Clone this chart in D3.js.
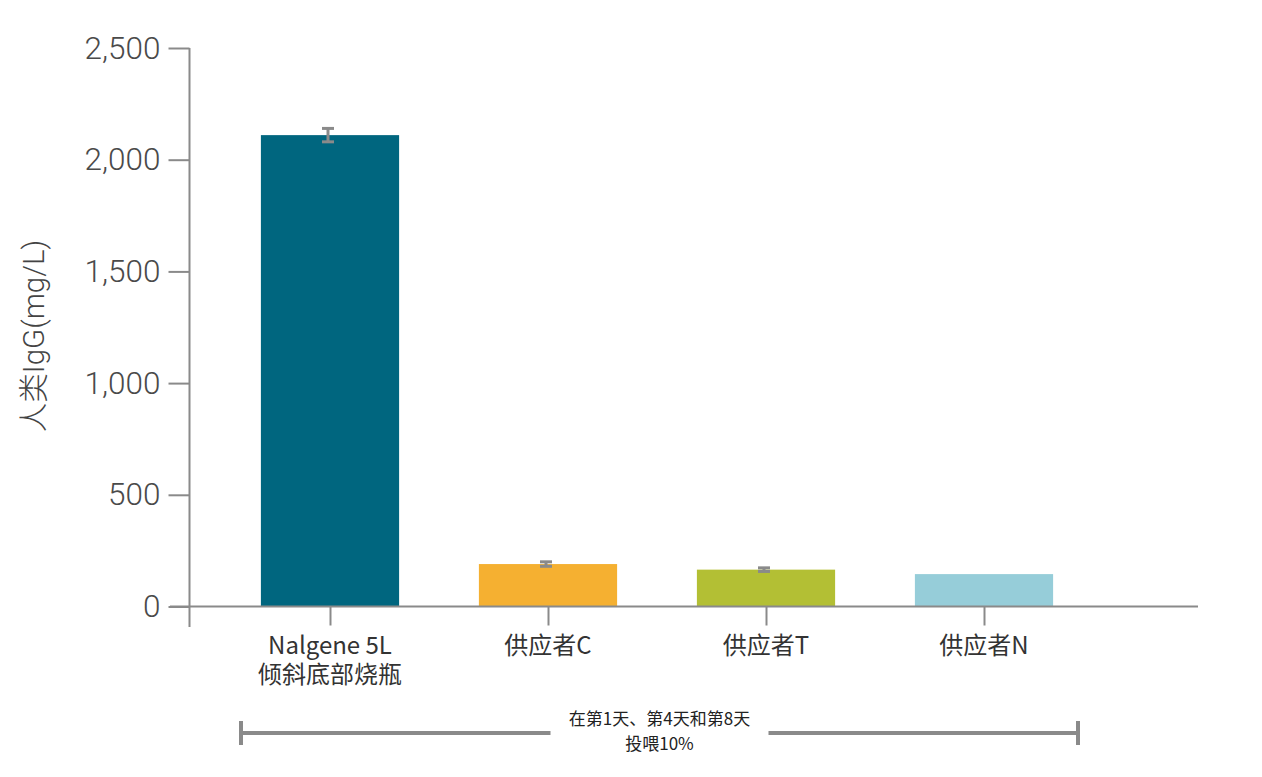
<!DOCTYPE html>
<html><head><meta charset="utf-8">
<script src="https://cdn.jsdelivr.net/npm/d3@7/dist/d3.min.js"></script>
<style>
html,body{margin:0;padding:0;background:#fff;}
svg{display:block;}
</style></head>
<body>
<svg id="chart" width="1262" height="777"></svg>
<script>
const categories = ["Nalgene 5L|倾斜底部烧瓶", "供应者C", "供应者T", "供应者N"];
const values = [2110, 190, 165, 145];
const errors = [30, 10, 8, 0];
const colors = ["#00667f", "#f5b031", "#b3bf34", "#96cdd9"];
const yTicks = [0, 500, 1000, 1500, 2000, 2500];
const yTitle = "人类IgG(mg/L)";
const bracketLines = ["在第1天、第4天和第8天", "投喂10%"];

const svg = d3.select("#chart");
const gray = "#8a8a8a";
const y = d3.scaleLinear().domain([0, 2500]).range([606.5, 48]);
const x = d3.scalePoint().domain(categories).range([330, 984]);
const barW = x.step() * 0.634;

// bars
svg.append("g").selectAll("rect").data(categories).join("rect")
  .attr("x", d => x(d) - barW / 2)
  .attr("y", (d, i) => y(values[i]))
  .attr("width", barW)
  .attr("height", (d, i) => y(0) - y(values[i]))
  .attr("fill", (d, i) => colors[i]);

// error bars
const eb = svg.append("g").attr("stroke", gray).attr("stroke-width", 3).attr("fill", "none");
categories.forEach((c, i) => {
  if (!errors[i]) return;
  const cx = x(c) - 2, t = y(values[i] + errors[i]), b = y(values[i] - errors[i]);
  eb.append("line").attr("x1", cx).attr("x2", cx).attr("y1", t).attr("y2", b);
  eb.append("line").attr("x1", cx - 6).attr("x2", cx + 6).attr("y1", t).attr("y2", t);
  eb.append("line").attr("x1", cx - 6).attr("x2", cx + 6).attr("y1", b).attr("y2", b);
});

// y axis
const yAxis = svg.append("g").attr("transform", "translate(189.5,0)")
  .call(d3.axisLeft(y).tickValues(yTicks).tickFormat(d3.format(",")).tickSize(21).tickPadding(8));
yAxis.select(".domain").remove();
yAxis.selectAll(".tick line").attr("stroke", gray).attr("stroke-width", 2);
yAxis.selectAll(".tick text").attr("fill", "#4a4a4a")
  .style("font-family", "Roboto, 'Liberation Sans', sans-serif").style("font-weight", 300).style("font-size", "31.5px");
svg.append("line").attr("x1", 189.5).attr("x2", 189.5).attr("y1", y(2500)).attr("y2", 627)
  .attr("stroke", gray).attr("stroke-width", 2);

// x axis line
svg.append("line").attr("x1", 170).attr("x2", 1198).attr("y1", y(0)).attr("y2", y(0))
  .attr("stroke", gray).attr("stroke-width", 2);

// x ticks and labels
const xAxis = svg.append("g").attr("transform", `translate(0,${y(0)})`)
  .call(d3.axisBottom(x).tickSize(19).tickFormat(""));
xAxis.select(".domain").remove();
xAxis.selectAll(".tick line").attr("stroke", gray).attr("stroke-width", 2);

const lab = svg.append("g").attr("font-family", "'Noto Sans CJK SC', 'Noto Sans', sans-serif")
  .attr("font-size", 24).attr("fill", "#333").attr("text-anchor", "middle");
categories.forEach(c => {
  c.split("|").forEach((s, j) =>
    lab.append("text").attr("x", x(c)).attr("y", 654 + j * 29).text(s));
});

// y title
svg.append("text").attr("transform", "translate(44,336) rotate(-90)")
  .attr("text-anchor", "middle").attr("fill", "#444")
  .style("font-family", "Roboto, 'Noto Sans CJK SC', sans-serif").style("font-weight", 300)
  .style("font-size", "29.5px").text(yTitle);

// bracket
const bx0 = x(categories[0]) - 89, bx1 = x(categories[categories.length - 1]) + 94, by = 733;
const br = svg.append("g").attr("stroke", gray).attr("stroke-width", 4);
const mid = (bx0 + bx1) / 2;
br.append("line").attr("x1", bx0).attr("x2", mid - 109).attr("y1", by).attr("y2", by);
br.append("line").attr("x1", mid + 109).attr("x2", bx1).attr("y1", by).attr("y2", by);
br.append("line").attr("x1", bx0).attr("x2", bx0).attr("y1", by - 12).attr("y2", by + 12);
br.append("line").attr("x1", bx1).attr("x2", bx1).attr("y1", by - 12).attr("y2", by + 12);
const bt = svg.append("g").attr("text-anchor", "middle").attr("fill", "#222")
  .attr("font-family", "'Noto Sans CJK SC', sans-serif").attr("font-size", 17);
bracketLines.forEach((s, j) => bt.append("text").attr("x", mid).attr("y", 725 + j * 25).text(s));
</script>
</body></html>
